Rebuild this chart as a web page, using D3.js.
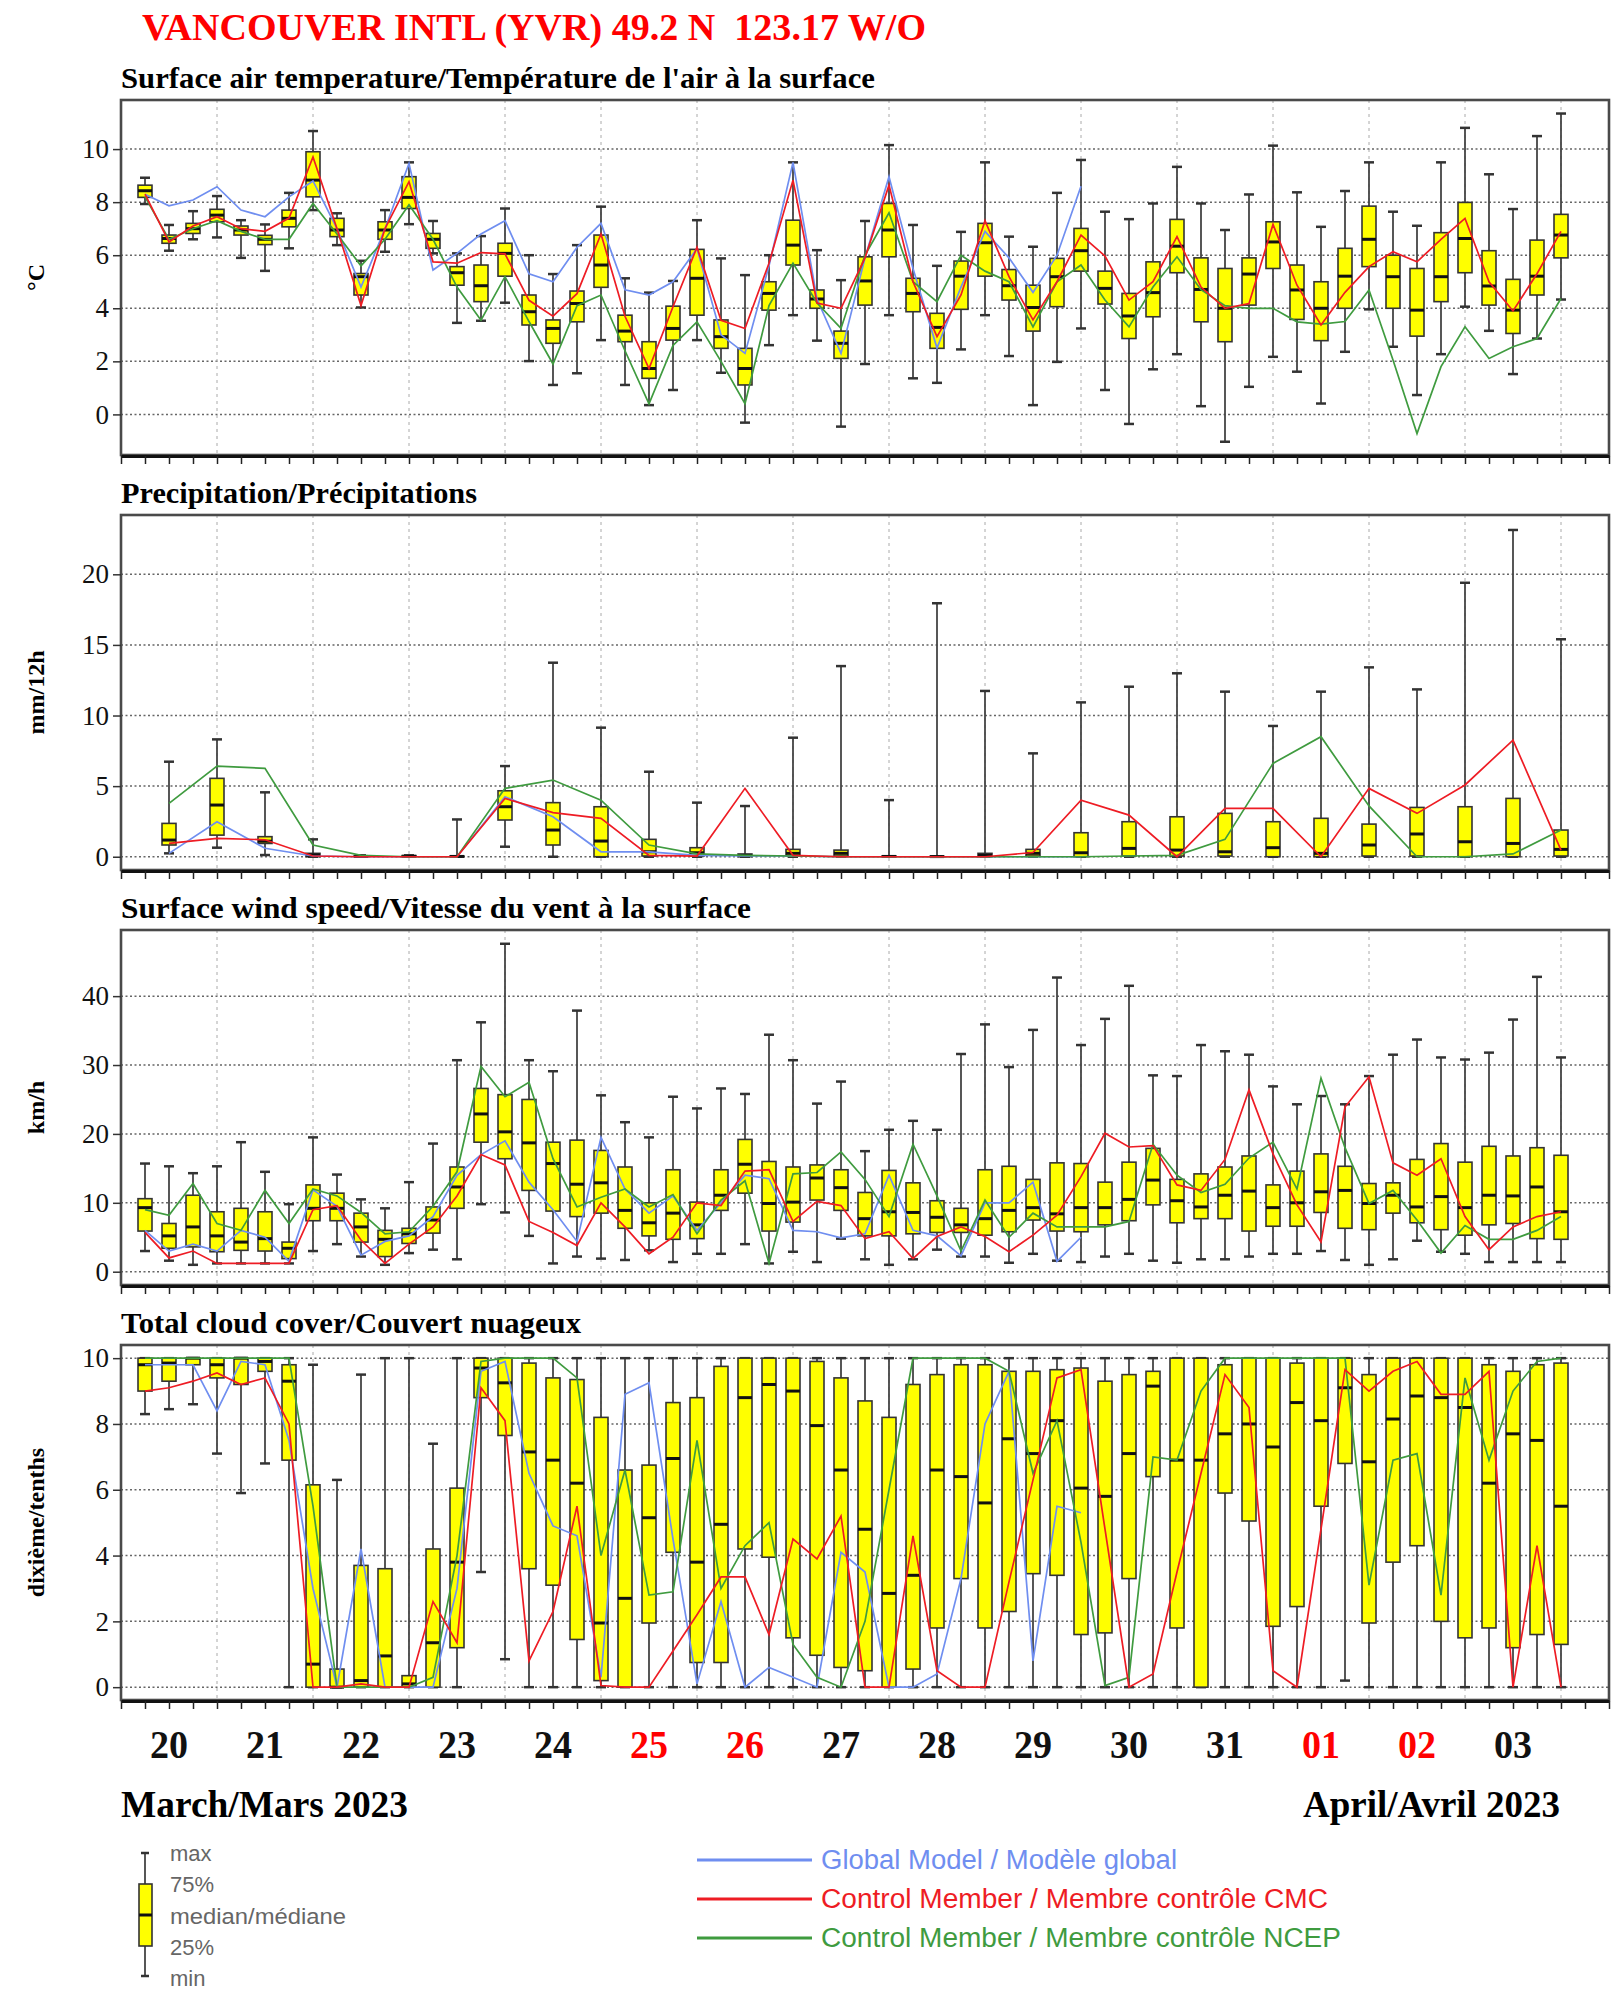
<!DOCTYPE html>
<html>
<head>
<meta charset="utf-8">
<script src="https://cdn.jsdelivr.net/npm/d3@7"></script>
<style>
  body { margin: 0; background: #fff; }
  svg { display: block; }
</style>
</head>
<body>
<svg id="chart"></svg>
<script>
// ---- time grid (hours after 00Z 20 March) ----
const sixHourly = d3.range(6, 361, 6)      // 60 ensemble times
const twelveHourly = d3.range(12, 361, 12) // 30 precip accumulations
const dayLabels = ["20","21","22","23","24","25","26","27","28","29","30","31","01","02","03"]
const weekendDays = ["25","26","01","02"]

// ---- temperature (°C) ----
const tempMax = [8.92,7.14,7.66,8.23,7.32,7.16,8.35,10.68,7.58,5.79, 7.70,9.50,7.29,6.07,6.72,7.76,6.00,5.29,6.38,7.83,
  5.13,4.59,5.03,7.32,5.88,5.25,6.00,9.50,6.19,5.06, 7.29,10.15,7.14,5.60,6.88,9.50,6.70,6.32,8.35,9.59,
  7.64,7.36,7.95,9.33,7.95,6.95,8.29,10.13,8.37,7.07, 8.42,9.50,7.64,7.11,9.50,10.80,9.05,7.74,10.49,11.34]
const tempQ3 = [8.64,6.76,7.20,7.73,7.10,6.75,7.70,9.90,7.39,5.31, 7.26,8.96,6.82,5.57,5.63,6.45,4.50,3.56,4.65,6.76,
  3.74,2.74,4.08,6.22,3.56,2.49,5.00,7.32,4.69,3.14, 5.94,7.95,5.13,3.81,5.78,7.20,5.46,4.87,5.88,7.01,
  5.40,4.56,5.75,7.35,5.90,5.50,5.90,7.26,5.63,5.00, 6.26,7.85,6.00,5.50,6.85,7.99,6.17,5.09,6.57,7.54]
const tempMed = [8.43,6.63,7.00,7.51,6.95,6.60,7.39,8.83,6.95,5.19, 6.95,8.18,6.60,5.34,4.85,6.07,3.87,3.24,4.18,5.63,
  3.14,1.73,3.24,5.13,2.93,1.73,4.56,6.38,4.35,2.68, 5.03,6.95,4.56,3.28,5.21,6.47,4.85,4.03,5.19,6.17,
  4.75,3.71,4.59,6.34,4.71,4.00,5.29,6.50,4.69,4.00, 5.21,6.60,5.19,3.93,5.19,6.63,4.84,3.93,5.21,6.76]
const tempQ1 = [8.18,6.45,6.82,7.26,6.76,6.40,7.07,8.20,6.70,4.50, 6.60,7.76,6.26,4.87,4.25,5.21,3.37,2.68,3.49,4.79,
  2.74,1.36,2.80,3.74,2.49,1.11,3.93,5.63,4.00,2.11, 4.12,5.94,3.87,2.49,3.96,5.21,4.31,3.14,4.06,5.40,
  4.16,2.86,3.68,5.34,3.49,2.74,4.12,5.50,3.58,2.78, 4.00,5.57,4.00,2.95,4.25,5.34,4.12,3.05,4.50,5.90]
const tempMin = [7.93,6.17,6.60,6.67,5.90,5.41,6.26,7.70,6.38,4.03, 6.13,7.17,6.07,3.45,3.53,4.21,2.01,1.11,1.55,2.80,
  1.11,0.35,0.92,2.80,1.57,-0.31,2.61,3.74,2.78,-0.46, 1.90,3.74,1.36,1.19,2.45,3.74,2.20,0.35,1.98,3.24,
  0.92,-0.36,1.70,2.27,0.31,-1.03,1.04,2.17,1.61,0.41, 2.36,3.96,2.55,0.73,2.27,4.06,3.15,1.52,2.86,4.33]
const tempGlobal = [8.30,7.86,8.08,8.58,7.70,7.45,8.20,8.80,7.00,4.80, 7.00,9.46,5.44,6.07,6.80,7.30,5.30,5.00,6.30,7.20,
  4.70,4.50,5.00,6.25,3.00,2.30,5.60,9.50,4.35,2.30, 5.90,8.96,5.50,2.50,4.80,6.90,5.90,4.60,6.00,8.60]
const tempCMC = [8.30,6.50,7.10,7.45,7.00,6.90,7.40,9.70,7.00,4.10, 7.00,8.77,5.75,5.70,6.10,6.05,4.30,3.70,4.55,6.80,
  3.70,1.73,4.06,6.30,3.55,3.24,5.70,8.83,4.20,4.00, 5.90,8.64,5.00,2.93,4.50,7.30,5.19,3.56,5.00,6.76,
  5.97,4.31,5.00,6.70,4.80,4.00,4.18,7.16,4.87,3.37, 4.60,5.57,6.13,5.75,6.60,7.39,5.00,3.90,5.30,6.90]
const tempNCEP = [8.20,6.60,7.00,7.30,6.90,6.60,6.60,7.95,6.80,5.60, 6.60,7.90,6.60,4.80,3.55,5.19,3.50,1.90,4.10,4.50,
  2.40,0.40,2.60,3.49,2.00,0.40,4.10,5.70,4.20,3.24, 6.00,7.60,5.00,4.25,6.00,5.40,5.00,3.30,5.00,5.63,
  4.31,3.30,4.80,5.94,4.70,4.10,4.00,4.00,3.49,3.40, 3.50,4.69,2.05,-0.72,1.80,3.30,2.11,2.55,2.86,4.37]

// ---- precipitation (mm/12h) ----
const precipMax = [6.73,8.31,4.56,1.23,0.10,0.10,2.64,6.42,13.74,9.14, 6.02,3.83,3.59,8.43,13.50,4.01,17.95,11.74,7.32,10.93,
  12.04,12.99,11.69,9.26,11.69,13.41,11.85,19.40,23.14,15.40]
const precipQ3 = [2.36,5.55,1.42,0.24,0.05,0.08,0.05,4.67,3.83,3.54, 1.23,0.64,0.19,0.52,0.47,0.05,0.03,0.24,0.52,1.70,
  2.48,2.83,3.07,2.48,2.72,2.31,3.49,3.54,4.13,1.89]
const precipMed = [1.18,3.66,1.10,0.12,0.02,0.03,0.02,3.54,1.89,1.11, 0.35,0.28,0.10,0.24,0.24,0.02,0.01,0.10,0.24,0.28,
  0.59,0.47,0.35,0.64,0.24,0.83,1.61,1.06,0.94,0.52]
const precipQ1 = [0.83,1.53,0.94,0,0,0,0,2.60,0.83,0, 0.05,0.05,0,0.05,0.05,0,0,0,0.05,0,
  0.05,0.05,0.05,0,0,0.05,0.05,0,0,0.05]
const precipMin = [0.24,0.64,0.12,0,0,0,0,0.71,0,0, 0,0,0,0,0,0,0,0,0,0, 0,0,0,0,0,0,0,0,0,0]
const precipGlobal = [0.24,2.48,0.60,0.05,0,0,0,4.25,2.83,0.35, 0.35,0.10,0.05,0.05,0,0,0,0,0,0]
const precipCMC = [0.94,1.30,1.20,0.05,0,0,0,4.13,3.12,2.72, 0.10,0.05,4.84,0.10,0,0,0,0,0.30,4.01,
  2.95,0,3.42,3.42,0,4.84,3.07,5.08,8.26,0.47]
const precipNCEP = [3.78,6.42,6.26,0.83,0.10,0,0,4.84,5.43,4.01, 0.83,0.20,0.10,0.05,0,0,0,0,0,0,
  0.05,0.10,1.23,6.61,8.50,3.60,0,0,0.20,1.89]

// ---- wind speed (km/h) ----
const windMax = [15.7,15.3,14.3,15.3,18.8,14.5,9.8,19.5,14.1,10.5, 9.2,13.0,18.6,30.7,36.2,47.6,30.7,29.1,37.9,25.6,
  21.7,19.5,25.4,23.7,26.6,25.8,34.4,30.7,24.4,27.6, 17.5,20.6,21.9,20.6,31.6,35.9,29.7,35.1,42.7,32.9,
  36.7,41.5,28.5,28.4,32.9,32.0,31.5,26.9,24.3,25.5, 24.3,28.4,31.5,33.7,31.1,30.8,31.8,36.6,42.8,31.1]
const windQ3 = [10.6,7.0,11.1,8.7,9.2,8.7,4.3,12.6,11.4,8.5, 6.0,6.3,9.4,15.2,26.6,25.7,25.0,18.8,19.1,17.6,
  15.2,10.0,14.8,10.1,14.8,19.2,16.0,15.2,15.5,14.8, 11.5,14.7,12.9,10.3,9.2,14.8,15.3,13.4,15.8,15.7,
  13.0,15.9,17.9,13.4,14.2,15.2,16.8,12.6,14.6,17.1, 15.3,12.8,12.9,16.3,18.6,15.9,18.2,16.8,18.0,16.9]
const windMed = [9.3,5.2,6.5,5.2,4.3,4.8,3.4,9.2,9.2,6.5, 4.7,5.5,7.5,12.3,22.9,20.3,18.7,15.7,12.7,12.9,
  8.9,7.1,8.5,6.8,11.1,15.6,9.9,10.1,13.6,12.2, 7.7,8.7,8.6,7.9,6.8,7.7,8.9,9.3,8.4,9.3,
  9.3,10.5,13.3,10.3,9.4,11.1,11.7,9.3,10.0,11.6, 11.8,9.9,11.1,9.4,10.9,9.3,11.1,11.0,12.3,8.7]
const windQ1 = [5.9,3.4,3.6,2.9,3.1,3.0,1.9,7.4,7.4,4.3, 2.2,4.1,5.6,9.2,18.8,16.4,11.8,8.8,8.0,8.5,
  6.3,5.2,4.7,4.8,8.9,11.4,5.9,7.2,10.4,8.9, 5.2,5.2,5.5,5.7,5.7,5.3,5.8,7.5,5.9,5.8,
  6.8,7.4,9.7,7.1,7.7,7.7,5.9,6.6,6.6,8.6, 6.3,6.1,8.5,7.1,6.1,5.3,6.8,7.0,4.8,4.7]
const windMin = [3.0,1.6,1.0,1.2,1.2,1.2,1.2,3.0,4.0,2.2, 1.0,2.7,3.2,1.8,9.8,8.6,5.2,1.2,2.2,1.9,
  1.7,3.1,1.4,2.6,2.6,4.0,1.2,2.9,1.4,4.8, 1.8,1.0,1.8,3.2,2.2,2.2,1.3,2.6,1.6,1.4,
  2.2,2.6,1.6,1.3,1.8,1.8,2.2,2.6,2.6,3.0, 1.7,1.0,1.8,4.5,2.9,2.6,1.4,1.4,1.4,1.4]
const windGlobal = [6.0,3.0,4.0,3.0,6.0,5.0,1.5,11.9,9.5,2.4, 4.4,5.2,8.0,14.0,17.0,19.0,13.0,9.0,4.4,19.5,
  12.0,8.5,11.0,6.0,10.0,14.0,13.5,6.0,5.8,4.9, 5.5,14.0,6.0,5.2,2.3,10.0,10.0,13.0,1.5,5.0]
const windCMC = [5.7,2.0,3.0,1.2,1.2,1.2,1.2,9.0,9.6,4.6, 1.2,4.0,6.5,11.0,17.0,15.5,7.3,5.7,3.8,10.0,
  6.5,2.6,5.0,10.0,9.6,14.6,14.8,7.3,10.2,9.6, 4.8,5.8,1.9,5.1,6.5,5.1,2.9,5.3,8.2,13.8,
  20.1,18.1,18.3,12.6,11.8,16.3,26.4,17.1,9.7,4.3, 23.9,28.3,15.8,14.0,16.4,8.0,3.2,6.5,8.0,8.7]
const windNCEP = [9.0,8.2,12.8,7.0,6.0,11.8,7.0,12.0,11.0,8.6, 5.5,5.8,9.5,14.5,29.8,25.4,27.5,16.4,9.4,10.8,
  12.0,9.4,11.2,5.5,10.4,13.2,1.2,14.2,14.4,17.4, 13.4,8.0,18.5,11.0,3.0,10.4,5.0,8.5,6.5,6.5,
  6.5,7.3,18.5,14.0,11.5,12.7,16.5,18.8,12.0,28.1, 18.0,9.9,11.8,7.5,2.7,6.7,4.7,4.7,6.0,8.0]

// ---- total cloud cover (tenths) ----
const cloudMax = [10,10,10,10,10,10,10,9.8,6.3,9.5, 10,10,7.4,10,10,10,10,10,10,10,
  10,10,10,10,10,10,10,10,10,10, 10,10,10,10,10,10,10,10,10,10,
  10,10,10,10,10,10,10,10,10,10, 10,10,10,10,10,10,10,10,10,10]
const cloudQ3 = [10,10,10,10,10,10,9.8,6.15,0.55,3.7, 3.6,0.35,4.2,6.05,10,10,9.85,9.4,9.35,8.2,
  6.6,6.75,8.65,8.8,9.75,10,10,10,9.9,9.4, 8.7,8.2,9.2,9.5,9.8,9.8,9.6,9.6,9.65,9.7,
  9.3,9.5,9.6,10,10,9.8,10,10,9.85,10, 10,9.5,10,10,10,10,9.8,9.6,9.8,9.85]
const cloudMed = [9.8,9.85,10,9.8,10,9.9,9.3,0.7,0,0.2, 0.95,0.1,1.35,3.8,9.7,9.25,7.15,6.9,6.2,1.95,
  2.7,5.15,6.95,3.8,4.95,8.8,9.2,9.0,7.95,6.6, 4.8,2.85,3.4,6.6,6.4,5.6,7.55,7.1,8.1,6.05,
  5.8,7.1,9.15,6.9,6.9,7.7,8.0,7.3,8.65,8.1, 9.1,6.85,8.15,8.85,8.8,8.5,6.2,7.7,7.5,5.5]
const cloudQ1 = [9.0,9.3,9.8,9.4,9.2,9.6,6.9,0,0,0, 0,0,0,1.2,8.8,7.65,3.6,3.1,1.45,0.2,
  0,1.95,4.1,0.75,0.75,4.2,3.95,1.5,0.97,0.6, 0.5,0,0.55,1.8,3.3,1.8,2.3,3.45,3.4,1.6,
  1.65,3.3,6.4,1.8,0,5.9,5.05,1.85,2.45,5.5, 6.8,1.95,3.8,4.3,2.0,1.5,1.8,1.2,1.6,1.3]
const cloudMin = [8.3,8.45,8.6,7.1,5.9,6.8,0,0,0,0, 0,0,0,0,3.5,0.85,0,0,0,0,
  0,0,0,0,0,0,0,0,0,0, 0,0,0,0,0,0,0,0,0,0,
  0,0,0,0,0,0,0,0,0,0, 0.2,0,0,0,0,0,0,0,0,0]
const cloudGlobal = [9.8,9.8,9.8,8.4,9.9,9.8,7.5,3.0,0,4.2, 0,0,0,3.0,9.6,9.9,6.5,4.9,4.6,0.3,
  8.9,9.25,4.5,0.1,2.6,0,0.6,0.3,0,4.1, 3.5,0,0,0.4,3.3,8.0,9.6,0.8,5.5,5.3]
const cloudCMC = [9.0,9.1,9.3,9.55,9.2,9.4,8.0,0,0,0.1, 0,0,2.6,1.35,9.1,8.1,0.8,2.3,5.5,0.05,
  0,0,1.1,2.2,3.35,3.35,1.6,4.5,3.9,5.2, 0,0,4.6,0.5,0,0,3.2,6.3,9.4,9.65,
  4.8,0,0.4,3.5,6.5,9.5,8.5,0.5,0,4.8, 9.65,9.0,9.6,9.9,8.9,8.9,9.6,0,4.3,0]
const cloudNCEP = [10,10,10,10,10,10,10,5.5,0,0, 0,0,0.3,4.0,9.9,10,10,10,9.4,4.0,
  6.6,2.8,2.9,7.5,3.0,4.3,5.0,1.3,0.3,0, 2.0,6.0,10,10,10,10,9.6,6.5,8.1,4.4,
  0.05,0.3,7.0,6.9,9.0,10,10,10,10,10, 10,3.1,6.9,7.1,2.8,9.4,6.9,9.0,9.9,10]

// ---- layout ----
const W = 1621, H = 1989
const serif = "'Liberation Serif','Times New Roman',serif"
const sans = "'Liberation Sans',Arial,sans-serif"
const panelH = 355
const blue = "#6f8ef0", red = "#ee1c24", green = "#3f9b3f"

const svg = d3.select("#chart").attr("width", W).attr("height", H)
svg.append("rect").attr("width", W).attr("height", H).attr("fill", "#fff")

const x = d3.scaleLinear().domain([0, 372]).range([121, 1609])

const panels = [
  {title: "Surface air temperature/Température de l'air à la surface", titleLen: 754, unit: "°C",
   top: 100, domain: [-1.53, 11.85], ticks: [0,2,4,6,8,10], hours: sixHourly,
   max: tempMax, q3: tempQ3, med: tempMed, q1: tempQ1, min: tempMin,
   global: tempGlobal, cmc: tempCMC, ncep: tempNCEP},
  {title: "Precipitation/Précipitations", titleLen: 356, unit: "mm/12h",
   top: 515, domain: [-0.94, 24.2], ticks: [0,5,10,15,20], hours: twelveHourly,
   max: precipMax, q3: precipQ3, med: precipMed, q1: precipQ1, min: precipMin,
   global: precipGlobal, cmc: precipCMC, ncep: precipNCEP},
  {title: "Surface wind speed/Vitesse du vent à la surface", titleLen: 630, unit: "km/h",
   top: 930, domain: [-1.93, 49.6], ticks: [0,10,20,30,40], hours: sixHourly,
   max: windMax, q3: windQ3, med: windMed, q1: windQ1, min: windMin,
   global: windGlobal, cmc: windCMC, ncep: windNCEP},
  {title: "Total cloud cover/Couvert nuageux", titleLen: 460, unit: "dixième/tenths",
   top: 1345, domain: [-0.39, 10.4], ticks: [0,2,4,6,8,10], hours: sixHourly,
   max: cloudMax, q3: cloudQ3, med: cloudMed, q1: cloudQ1, min: cloudMin,
   global: cloudGlobal, cmc: cloudCMC, ncep: cloudNCEP}
]

// main title (two spaces kept before the longitude)
svg.append("text")
  .attr("x", 142).attr("y", 40)
  .attr("xml:space", "preserve").style("white-space", "pre")
  .attr("font-family", serif).attr("font-weight", "bold").attr("font-size", 38)
  .attr("fill", "#ff0000")
  .attr("textLength", 784).attr("lengthAdjust", "spacingAndGlyphs")
  .text("VANCOUVER INTL (YVR) 49.2 N  123.17 W/O")

const boxW = 14, capW = 10

panels.forEach(p => {
  const bottom = p.top + panelH
  const y = d3.scaleLinear().domain(p.domain).range([bottom, p.top])
  const g = svg.append("g")

  g.append("text")
    .attr("x", 121).attr("y", p.top - 12)
    .attr("font-family", serif).attr("font-weight", "bold").attr("font-size", 30)
    .attr("textLength", p.titleLen).attr("lengthAdjust", "spacingAndGlyphs")
    .text(p.title)

  // gridlines
  g.selectAll(".hgrid").data(p.ticks).join("line")
    .attr("x1", x(0)).attr("x2", x(372))
    .attr("y1", d => y(d)).attr("y2", d => y(d))
    .attr("stroke", "#666").attr("stroke-width", 1.5).attr("stroke-dasharray", "2,2.5")
  g.selectAll(".vgrid").data(d3.range(24, 372, 24)).join("line")
    .attr("x1", d => x(d)).attr("x2", d => x(d))
    .attr("y1", p.top).attr("y2", bottom)
    .attr("stroke", "#aaa").attr("stroke-width", 1).attr("stroke-dasharray", "3,4")

  const rows = p.hours.map((h, i) => ({h, max: p.max[i], q3: p.q3[i], med: p.med[i], q1: p.q1[i], min: p.min[i]}))

  // whiskers
  g.selectAll(".whisker").data(rows).join("line")
    .attr("x1", d => x(d.h)).attr("x2", d => x(d.h))
    .attr("y1", d => y(d.max)).attr("y2", d => y(d.min))
    .attr("stroke", "#444").attr("stroke-width", 1.8)
  g.selectAll(".capTop").data(rows).join("line")
    .attr("x1", d => x(d.h) - capW / 2).attr("x2", d => x(d.h) + capW / 2)
    .attr("y1", d => y(d.max)).attr("y2", d => y(d.max))
    .attr("stroke", "#333").attr("stroke-width", 2.5)
  g.selectAll(".capBot").data(rows).join("line")
    .attr("x1", d => x(d.h) - capW / 2).attr("x2", d => x(d.h) + capW / 2)
    .attr("y1", d => y(d.min)).attr("y2", d => y(d.min))
    .attr("stroke", "#333").attr("stroke-width", 2.5)
  // boxes
  g.selectAll(".box").data(rows).join("rect")
    .attr("x", d => x(d.h) - boxW / 2).attr("width", boxW)
    .attr("y", d => y(d.q3)).attr("height", d => Math.max(0.5, y(d.q1) - y(d.q3)))
    .attr("fill", "#ffff00").attr("stroke", "#333").attr("stroke-width", 1.6)
  g.selectAll(".median").data(rows).join("line")
    .attr("x1", d => x(d.h) - boxW / 2).attr("x2", d => x(d.h) + boxW / 2)
    .attr("y1", d => y(d.med)).attr("y2", d => y(d.med))
    .attr("stroke", "#111").attr("stroke-width", 3)

  // deterministic models
  const line = d3.line().x(d => x(d[0])).y(d => y(d[1]))
  const series = [[p.global, blue], [p.ncep, green], [p.cmc, red]]
  series.forEach(([vals, col]) => {
    g.append("path")
      .datum(vals.map((v, i) => [p.hours[i], v]))
      .attr("d", line).attr("fill", "none")
      .attr("stroke", col).attr("stroke-width", 1.7)
  })

  // frame
  g.append("rect")
    .attr("x", x(0)).attr("y", p.top).attr("width", x(372) - x(0)).attr("height", panelH)
    .attr("fill", "none").attr("stroke", "#4a4a4a").attr("stroke-width", 2.6)

  // y axis
  const ya = g.append("g").attr("transform", `translate(${x(0)},0)`)
    .call(d3.axisLeft(y).tickValues(p.ticks).tickSize(8).tickPadding(4).tickFormat(d3.format("d")))
  ya.select(".domain").remove()
  ya.selectAll(".tick line").attr("stroke", "#333").attr("stroke-width", 1.5)
  ya.selectAll(".tick text").attr("font-family", serif).attr("font-size", 27).attr("fill", "#111")

  // time axis along the bottom of each panel
  const xa = g.append("g").attr("transform", `translate(0,${bottom + 1})`)
    .call(d3.axisBottom(x).tickValues(d3.range(0, 373, 6)).tickSize(8).tickSizeOuter(0).tickFormat(""))
  xa.select(".domain").attr("stroke", "#111").attr("stroke-width", 3)
  xa.selectAll(".tick line").attr("stroke", "#222").attr("stroke-width", 1.5)

  // unit label
  g.append("text")
    .attr("transform", `translate(36,${p.top + panelH / 2}) rotate(-90)`)
    .attr("text-anchor", "middle").attr("dominant-baseline", "central")
    .attr("font-family", serif).attr("font-weight", "bold").attr("font-size", 24)
    .text(p.unit)
})

// day labels
svg.selectAll(".day").data(dayLabels).join("text")
  .attr("x", (d, i) => x(i * 24 + 12)).attr("y", 1758)
  .attr("text-anchor", "middle")
  .attr("font-family", serif).attr("font-weight", "bold").attr("font-size", 40)
  .attr("textLength", 38).attr("lengthAdjust", "spacingAndGlyphs")
  .attr("fill", d => weekendDays.includes(d) ? "#ff0000" : "#111")
  .text(d => d)

svg.append("text").attr("x", 121).attr("y", 1817)
  .attr("font-family", serif).attr("font-weight", "bold").attr("font-size", 38)
  .attr("textLength", 287).attr("lengthAdjust", "spacingAndGlyphs")
  .text("March/Mars 2023")
svg.append("text").attr("x", 1303).attr("y", 1817)
  .attr("font-family", serif).attr("font-weight", "bold").attr("font-size", 38)
  .attr("textLength", 257).attr("lengthAdjust", "spacingAndGlyphs")
  .text("April/Avril 2023")

// box legend
const lg = svg.append("g")
lg.append("line").attr("x1", 145).attr("x2", 145).attr("y1", 1853).attr("y2", 1976)
  .attr("stroke", "#444").attr("stroke-width", 1.8)
;[1853, 1976].forEach(v => lg.append("line").attr("x1", 141).attr("x2", 149).attr("y1", v).attr("y2", v)
  .attr("stroke", "#333").attr("stroke-width", 2.5))
lg.append("rect").attr("x", 139).attr("y", 1884).attr("width", 13).attr("height", 62)
  .attr("fill", "#ffff00").attr("stroke", "#333").attr("stroke-width", 1.6)
lg.append("line").attr("x1", 139).attr("x2", 152).attr("y1", 1915).attr("y2", 1915)
  .attr("stroke", "#111").attr("stroke-width", 3)
const boxLegend = [["max", 1853], ["75%", 1884], ["median/médiane", 1916], ["25%", 1947], ["min", 1978]]
boxLegend.forEach(([t, v]) => {
  const tx = lg.append("text").attr("x", 170).attr("y", v).attr("dominant-baseline", "central")
    .attr("font-family", sans).attr("font-size", 22).attr("fill", "#666").text(t)
  if (t.startsWith("median")) tx.attr("textLength", 176).attr("lengthAdjust", "spacingAndGlyphs")
})

// model legend
const modelLegend = [["Global Model / Modèle global", blue, 1860, 356],
  ["Control Member / Membre contrôle CMC", red, 1899, 507],
  ["Control Member / Membre contrôle NCEP", green, 1938, 520]]
modelLegend.forEach(([t, col, v, len]) => {
  svg.append("line").attr("x1", 697).attr("x2", 812).attr("y1", v).attr("y2", v)
    .attr("stroke", col).attr("stroke-width", 3)
  svg.append("text").attr("x", 821).attr("y", v).attr("dominant-baseline", "central")
    .attr("font-family", sans).attr("font-size", 27).attr("fill", col)
    .attr("textLength", len).attr("lengthAdjust", "spacingAndGlyphs")
    .text(t)
})
</script>
</body>
</html>
